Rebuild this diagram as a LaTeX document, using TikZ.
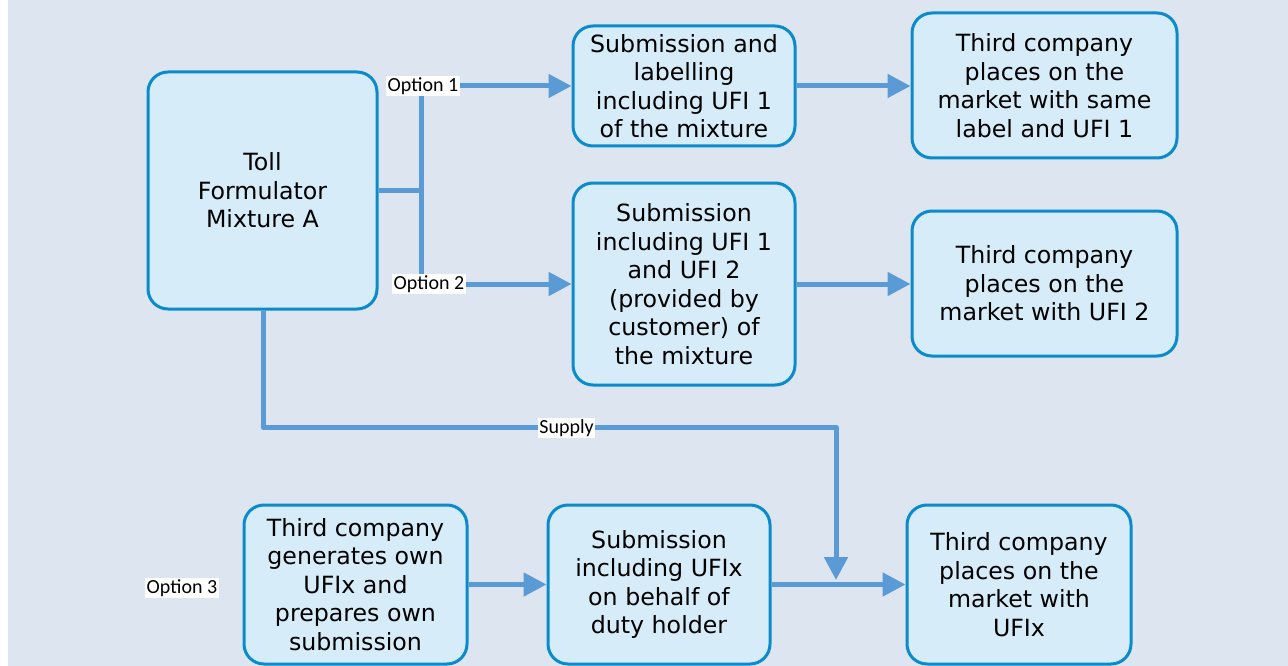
\documentclass[tikz,border=0pt]{standalone}
\usepackage{fontspec}
\setmainfont{DejaVu Sans}
\newfontfamily\labfont{Carlito}
\usetikzlibrary{arrows.meta}
\definecolor{bgc}{HTML}{DCE5F0}
\definecolor{boxfill}{HTML}{D6ECF9}
\definecolor{boxline}{HTML}{0A8BCB}
\definecolor{arr}{HTML}{5B9BD5}
\tikzset{
  box/.style={draw=boxline, fill=boxfill, line width=3pt, rounded corners=20pt,
    align=center, inner sep=0pt, font=\fontsize{23.7}{28.5}\selectfont},
  lab/.style={fill=white, inner sep=1.5pt, font=\labfont\fontsize{20}{22}\selectfont},
  conn/.style={draw=arr, line width=5pt},
  arrow/.style={conn, -{Triangle[length=23pt,width=23pt]}}
}
\begin{document}
\begin{tikzpicture}[x=1pt,y=-1pt]
\useasboundingbox (0,0) rectangle (1288,666);
\fill[bgc] (8,0) rectangle (1288,666);
% boxes
\node[box, minimum width=229pt, minimum height=237pt] (toll) at (262.5,190.5) {Toll\\Formulator\\Mixture A};
\node[box, minimum width=222pt, minimum height=120pt] (sub1) at (684,86) {Submission and\\labelling\\including UFI 1\\of the mixture};
\node[box, minimum width=265pt, minimum height=145pt] (tc1) at (1044.5,85.5) {Third company\\places on the\\market with same\\label and UFI 1};
\node[box, minimum width=222pt, minimum height=202pt] (sub2) at (684,284) {Submission\\including UFI 1\\and UFI 2\\(provided by\\customer) of\\the mixture};
\node[box, minimum width=265pt, minimum height=145pt] (tc2) at (1044.5,283.5) {Third company\\places on the\\market with UFI 2};
\node[box, minimum width=223pt, minimum height=159pt] (b1) at (355.5,584.5) {Third company\\generates own\\UFIx and\\prepares own\\submission};
\node[box, minimum width=222pt, minimum height=159pt] (b2) at (659,584.5) {Submission\\including UFIx\\on behalf of\\duty holder};
\node[box, minimum width=224pt, minimum height=159pt] (b3) at (1019,584.5) {Third company\\places on the\\market with\\UFIx};
% junction
\coordinate (j) at (421,190.5);
\coordinate (jt) at (421,86);
\coordinate (jb) at (421,284);
\draw[conn] (toll.east |- j) -- (j);
\draw[conn] (jt) -- (jb);
% labels
\node[lab] (o1) at (423,86) {Option 1};
\node[lab] (o2) at (429,284) {Option 2};
\node[lab] (o3) at (182,588) {Option 3};
% arrows
\draw[arrow] (o1.east) -- (sub1.west |- o1);
\draw[arrow] (o2.east) -- (sub2.west |- o2);
\draw[arrow] (sub1.east) -- (tc1.west |- sub1);
\draw[arrow] (sub2.east) -- (tc2.west |- sub2);
\draw[arrow] (b1.east) -- (b2.west);
\draw[arrow] (b2.east) -- (b3.west);
% supply
\coordinate (s1) at (263,427.5);
\coordinate (s2) at (836,427.5);
\coordinate (s3) at (836,580);
\draw[arrow, line join=round] (toll.south -| s1) -- (s1) -- (s2) -- (s3);
\node[lab] (sup) at (566.5,428) {Supply};
\end{tikzpicture}
\end{document}
